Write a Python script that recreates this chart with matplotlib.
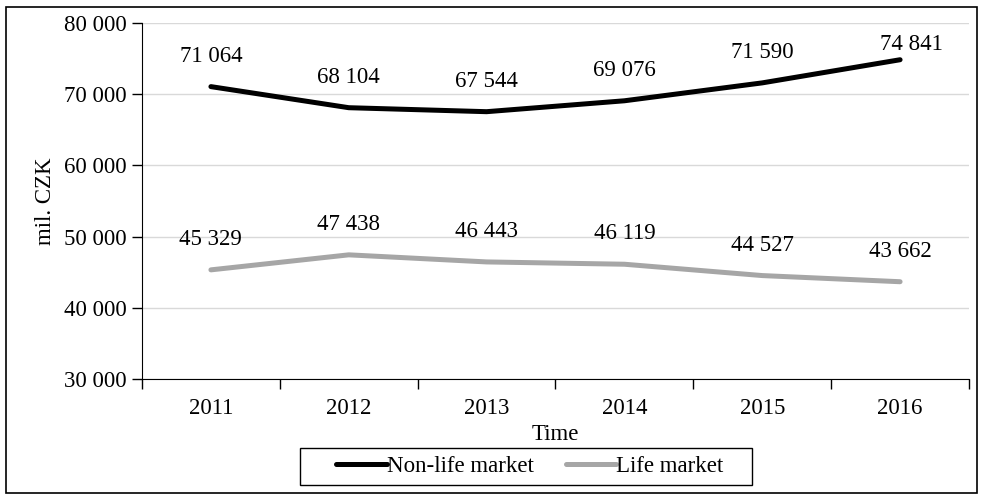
import matplotlib.pyplot as plt
from matplotlib.patches import Rectangle

# datos del grafico
years = ['2011', '2012', '2013', '2014', '2015', '2016']
nonlife = [71064, 68104, 67544, 69076, 71590, 74841]
life = [45329, 47438, 46443, 46119, 44527, 43662]

plt.rcParams['font.family'] = ['Liberation Serif', 'DejaVu Serif']
plt.rcParams['font.size'] = 16.5

fig = plt.figure(figsize=(9.82, 4.96), dpi=100)
W, H = 982, 496
ax = fig.add_axes([142 / W, 1 - 379 / H, (969 - 142) / W, (379 - 23) / H])

x = list(range(len(years)))
ax.plot(x, nonlife, color='black', lw=3.6, solid_capstyle='round', label='Non-life market', zorder=3)
ax.plot(x, life, color='#a6a6a6', lw=3.6, solid_capstyle='round', label='Life market', zorder=3)

def fmt(v):
    return f'{v:,}'.replace(',', ' ')

for i, v in enumerate(nonlife):
    dx, dy = 0, 22
    if i == len(nonlife) - 1:
        dx, dy = 8, 11
    ax.annotate(fmt(v), (i, v), xytext=(dx, dy), textcoords='offset points',
                ha='center', va='center')
for i, v in enumerate(life):
    ax.annotate(fmt(v), (i, v), xytext=(0, 22), textcoords='offset points',
                ha='center', va='center')

ax.set_xlim(-0.5, len(years) - 0.5)
ax.set_ylim(30000, 80000)
ax.set_yticks(range(30000, 80001, 10000))
ax.set_yticklabels([fmt(v) for v in range(30000, 80001, 10000)])
ax.set_xticks([i - 0.5 for i in range(len(years) + 1)])
ax.set_xticklabels([])
ax.set_xticks(x, minor=True)
ax.set_xticklabels(years, minor=True)
ax.tick_params(axis='x', which='minor', length=0, pad=14)
ax.tick_params(axis='x', which='major', length=7, width=1)
ax.tick_params(axis='y', length=7, width=1, pad=4)
ax.grid(axis='y', color='#d9d9d9', lw=1)
ax.set_axisbelow(True)
for s in ['top', 'right']:
    ax.spines[s].set_visible(False)

ax.set_ylabel('mil. CZK', labelpad=6)
ax.set_xlabel('Time', labelpad=3)

# leyenda sin marco, el marco se dibuja aparte
leg = fig.legend(loc='center', bbox_to_anchor=(530 / W, 1 - 466 / H), ncol=2,
                 frameon=False, handlelength=2.2,
                 handletextpad=0.0, columnspacing=1.4, borderpad=0.25)
fig.patches.append(Rectangle((300 / W, 1 - 485 / H), (752 - 300) / W, (485 - 448) / H,
                             transform=fig.transFigure, fill=False, ec='black', lw=1))

fig.patches.append(Rectangle((6 / W, 1 - 493 / H), (977 - 6) / W, (493 - 7) / H,
                             transform=fig.transFigure, fill=False, ec='black', lw=1.2))

fig.savefig('out.png', dpi=100)
